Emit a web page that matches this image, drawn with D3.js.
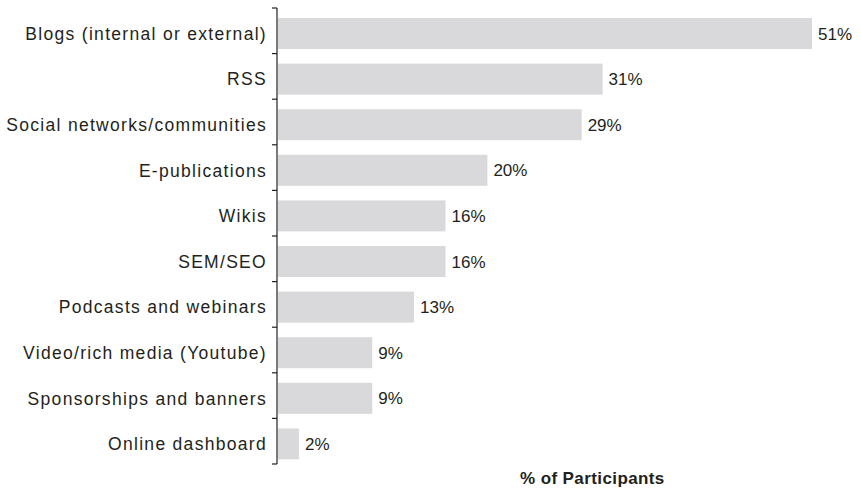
<!DOCTYPE html>
<html>
<head>
<meta charset="utf-8">
<script src="https://cdn.jsdelivr.net/npm/d3@7"></script>
<style>
  body { margin: 0; background: #fff; }
  svg text { font-family: "Liberation Sans", Arial, Helvetica, sans-serif; fill: #231f20; }
</style>
</head>
<body>
<div id="chart"></div>
<script>
const categories = [
  'Blogs (internal or external)',
  'RSS',
  'Social networks/communities',
  'E-publications',
  'Wikis',
  'SEM/SEO',
  'Podcasts and webinars',
  'Video/rich media (Youtube)',
  'Sponsorships and banners',
  'Online dashboard'
];
const values = [51, 31, 29, 20, 16, 16, 13, 9, 9, 2];
const xTitle = '% of Participants';

const width = 861;
const height = 490;
const axesSpace = { left: 277, top: 8, bottom: 464 };

const svg = d3.select('#chart')
  .append('svg')
  .attr('width', width)
  .attr('height', height);

const x = d3.scaleLinear()
  .domain([0, 51])
  .range([axesSpace.left + 1, 812]);

const y = d3.scaleBand()
  .domain(categories)
  .range([axesSpace.top, axesSpace.bottom]);

const barHeight = 31;
const barShift = 10;

const data = categories.map((c, i) => ({ name: c, value: values[i] }));

svg.append('g')
  .selectAll('rect')
  .data(data)
  .enter()
  .append('rect')
  .attr('x', x(0))
  .attr('y', d => y(d.name) + barShift)
  .attr('width', d => x(d.value) - x(0))
  .attr('height', barHeight)
  .attr('fill', '#d9d9db');

svg.append('g')
  .selectAll('text')
  .data(data)
  .enter()
  .append('text')
  .attr('x', d => x(d.value) + 6)
  .attr('y', d => y(d.name) + barShift + barHeight / 2)
  .attr('dy', '0.36em')
  .attr('font-size', 17)
  .text(d => d.value + '%');

// category axis: ticks on band boundaries
const yAxis = svg.append('g')
  .attr('transform', `translate(${axesSpace.left},0)`);

yAxis.append('line')
  .attr('x1', 0).attr('x2', 0)
  .attr('y1', axesSpace.top).attr('y2', axesSpace.bottom)
  .attr('stroke', '#231f20')
  .attr('stroke-width', 1.2);

const bounds = categories.map(c => y(c)).concat([axesSpace.bottom]);
yAxis.selectAll('.tick')
  .data(bounds)
  .enter()
  .append('line')
  .attr('x1', -5).attr('x2', 0)
  .attr('y1', d => d).attr('y2', d => d)
  .attr('stroke', '#231f20')
  .attr('stroke-width', 1.2);

yAxis.selectAll('.label')
  .data(categories)
  .enter()
  .append('text')
  .attr('x', -10)
  .attr('y', d => y(d) + barShift + barHeight / 2)
  .attr('dy', '0.36em')
  .attr('text-anchor', 'end')
  .attr('font-size', 17.5)
  .attr('letter-spacing', 1.3)
  .text(d => d);

svg.append('text')
  .attr('x', 520)
  .attr('y', 484)
  .attr('font-size', 17)
  .attr('font-weight', 'bold')
  .attr('letter-spacing', 0.4)
  .text(xTitle);
</script>
</body>
</html>
